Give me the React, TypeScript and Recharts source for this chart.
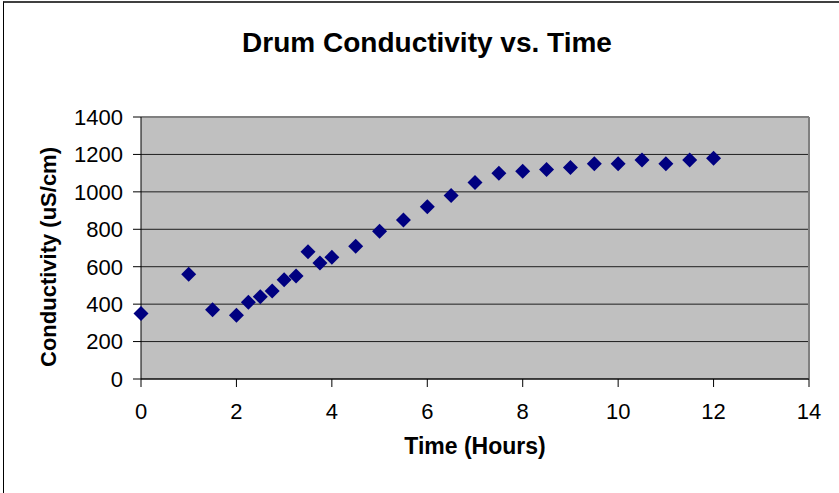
import React from "react";
import {
  ScatterChart,
  Scatter,
  XAxis,
  YAxis,
  CartesianGrid,
  ReferenceLine,
} from "recharts";

const timeHours = [0, 1, 1.5, 2, 2.25, 2.5, 2.75, 3, 3.25, 3.5, 3.75, 4, 4.5, 5, 5.5, 6, 6.5, 7, 7.5, 8, 8.5, 9, 9.5, 10, 10.5, 11, 11.5, 12];
const conductivity = [350, 560, 370, 340, 410, 440, 470, 530, 550, 680, 620, 650, 710, 790, 850, 920, 980, 1050, 1100, 1110, 1120, 1130, 1150, 1150, 1170, 1150, 1170, 1180];
const xTicks = [0, 2, 4, 6, 8, 10, 12, 14];
const yTicks = [0, 200, 400, 600, 800, 1000, 1200, 1400];

const data = timeHours.map((t, i) => ({ t, c: conductivity[i] }));

const FONT = "'Liberation Sans', Arial, sans-serif";

const Diamond = (props: any) => {
  const { cx, cy } = props;
  const r = 7.5;
  return (
    <polygon
      points={`${cx},${cy - r} ${cx + r},${cy} ${cx},${cy + r} ${cx - r},${cy}`}
      fill="#000080"
    />
  );
};

export default function App() {
  return (
    <div style={{ position: "absolute", left: 0, top: 0, width: 839, height: 493, background: "#fff", overflow: "hidden" }}>
      <div
        style={{
          position: "absolute",
          left: 3,
          top: 1,
          right: -10,
          bottom: -10,
          borderTop: "2px solid #404040",
          borderLeft: "1px solid #000",
        }}
      />
      <div style={{ position: "absolute", left: 0, top: 0 }}>
        <ScatterChart width={839} height={493} margin={{ top: 117, right: 30, bottom: 0, left: 0 }}>
          <CartesianGrid horizontal vertical={false} fill="#C0C0C0" stroke="#000" strokeOpacity={0.85} />
          <XAxis
            type="number"
            dataKey="t"
            domain={[0, 14]}
            ticks={xTicks}
            interval={0}
            height={114}
            tickSize={8}
            tickMargin={16}
            stroke="#000"
            tick={{ fill: "#000", fontSize: 22, fontFamily: FONT }}
          />
          <YAxis
            type="number"
            dataKey="c"
            domain={[0, 1400]}
            ticks={yTicks}
            interval={0}
            width={141}
            tickSize={8}
            tickMargin={10}
            stroke="#000"
            tick={{ fill: "#000", fontSize: 22, fontFamily: FONT }}
          />
          <ReferenceLine y={1400} stroke="#808080" strokeWidth={2} />
          <ReferenceLine x={14} stroke="#808080" strokeWidth={2} />
          <Scatter data={data} shape={<Diamond />} isAnimationActive={false} />
        </ScatterChart>
      </div>
      <svg width={839} height={493} style={{ position: "absolute", left: 0, top: 0, pointerEvents: "none" }}>
        <text x={427} y={52} textAnchor="middle" fontFamily={FONT} fontWeight="bold" fontSize={28} fill="#000">
          Drum Conductivity vs. Time
        </text>
        <text x={475} y={454} textAnchor="middle" fontFamily={FONT} fontWeight="bold" fontSize={23} fill="#000">
          Time (Hours)
        </text>
        <text
          x={56}
          y={257}
          textAnchor="middle"
          transform="rotate(-90 56 257)"
          fontFamily={FONT}
          fontWeight="bold"
          fontSize={22}
          fill="#000"
        >
          Conductivity (uS/cm)
        </text>
      </svg>
    </div>
  );
}
